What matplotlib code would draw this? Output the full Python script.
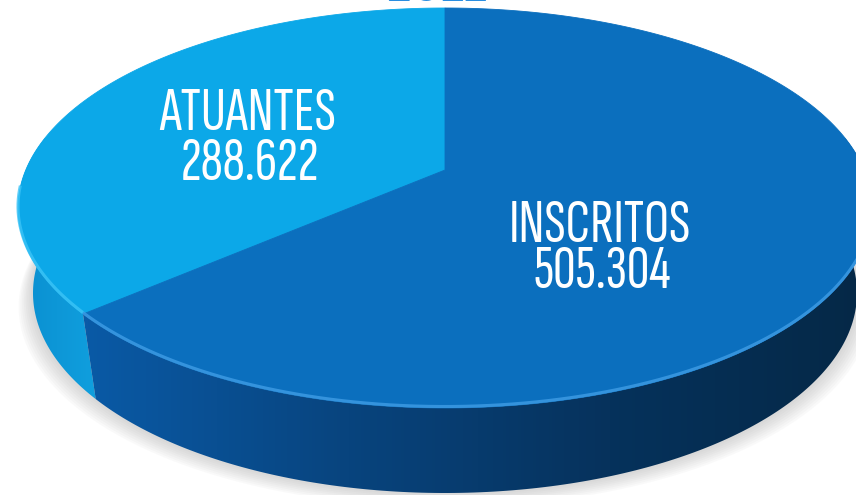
import numpy as np
import matplotlib
matplotlib.use("Agg")
import matplotlib.pyplot as plt
from matplotlib.patches import Polygon
from matplotlib.colors import LinearSegmentedColormap

# =========================
# Data
# =========================
labels = ["ATUANTES", "INSCRITOS"]
values = [288622, 505304]
value_text = ["288.622", "505.304"]
title = "2011"

# =========================
# Geometry / style
# =========================
W, H = 856, 495
CX, CY = 445.0, 208.0        # top ellipse centre (pixels)
RX, RY = 427.0, 200.0        # top ellipse radii
CY_BOT, RX_BOT = 293.0, 412.0  # bottom ellipse (side depth)
K = 0.19                     # perspective strength
START = 90.0                 # first slice starts at 12 o'clock

top_colors = ["#0ca8e8", "#0b6fbe"]
rim_colors = ["#3cc4f7", "#3f9de6"]
side_cmaps = [
    LinearSegmentedColormap.from_list("s0", ["#0a8fd0", "#109fde"]),
    LinearSegmentedColormap.from_list("s1", ["#0a5aa6", "#08447e", "#06325c", "#052846"]),
]
FONT = ["Sofia Sans Extra Condensed", "Fira Sans Extra Condensed", "DejaVu Sans"]
LABEL_SIZE = 45


def proj(theta, r=1.0, bottom=False):
    """Project polar point (deg, radius) of the pie disc onto screen pixels."""
    t = np.radians(theta)
    u, v = r * np.cos(t), r * np.sin(t)
    X = u / (1 + K * v)
    Y = v / (1 + K * v)
    y0 = -K / (1 - K * K)
    rx = RX_BOT if bottom else RX
    cy = CY_BOT if bottom else CY
    x = CX + rx * np.sqrt(1 - K * K) * X
    y = cy - RY * (1 - K * K) * (Y - y0)
    return x, y


def arc(a, b, bottom=False, n=200):
    th = np.linspace(a, b, n)
    x, y = proj(th, 1.0, bottom)
    return np.column_stack([x, y])


def visible_range(a, b, lo=170.0, hi=370.0):
    for off in (-360.0, 0.0, 360.0):
        s, e = max(a + off, lo), min(b + off, hi)
        if e > s:
            return s, e
    return None


fig = plt.figure(figsize=(W / 100, H / 100), dpi=100)
ax = fig.add_axes([0, 0, 1, 1])
ax.set_xlim(0, W)
ax.set_ylim(H, 0)
ax.axis("off")

fracs = np.array(values) / np.sum(values)
angles = START + np.concatenate([[0], np.cumsum(fracs) * 360.0])

# soft shadow under the disc
for off in np.linspace(14, 2, 8):
    sh = arc(0, 360, bottom=True)
    sh[:, 1] += off
    sh[:, 0] = CX + (sh[:, 0] - CX) * (1 + off / 400)
    ax.add_patch(Polygon(sh, closed=True, facecolor="#9a9a9a", edgecolor="none",
                         alpha=0.05, zorder=1))

# side walls
for i in range(len(values)):
    rng = visible_range(angles[i], angles[i + 1])
    if rng is None:
        continue
    top = arc(rng[0], rng[1])
    bot = arc(rng[0], rng[1], bottom=True)[::-1]
    poly = Polygon(np.vstack([top, bot]), closed=True, facecolor="none",
                   edgecolor="none", zorder=2)
    ax.add_patch(poly)
    grad = np.linspace(0, 1, 256).reshape(1, -1)
    x0 = min(top[:, 0].min(), bot[:, 0].min())
    x1 = max(top[:, 0].max(), bot[:, 0].max())
    im = ax.imshow(grad, cmap=side_cmaps[i], aspect="auto",
                   extent=[x0, x1, H, 0], zorder=2, interpolation="bicubic")
    im.set_clip_path(poly)

# top faces
apex = proj(0.0, 0.0)
for i in range(len(values)):
    pts = np.vstack([[apex], arc(angles[i], angles[i + 1])])
    ax.add_patch(Polygon(pts, closed=True, facecolor=top_colors[i],
                         edgecolor=top_colors[i], linewidth=0.6, zorder=3))
    rng = visible_range(angles[i], angles[i + 1], 185.0, 355.0)
    if rng is not None:
        rim = arc(rng[0], rng[1])
        ax.plot(rim[:, 0], rim[:, 1] - 1.5, color=rim_colors[i], lw=2.2,
                alpha=0.8, zorder=4, solid_capstyle="butt")

# labels (baseline positions in pixels)
label_pos = [(248, 130), (600, 242)]
value_gap = [50, 46]
for i, (x, y) in enumerate(label_pos):
    ax.text(x, y, labels[i], color="white", fontsize=LABEL_SIZE, family=FONT,
            ha="center", va="baseline", zorder=5)
    ax.text(x + 2, y + value_gap[i], value_text[i], color="white", fontsize=LABEL_SIZE,
            family=FONT, ha="center", va="baseline", zorder=5)

# year title, almost entirely above the visible area
ax.text(436, 0.9, title, color="#2a8ee0", fontsize=58, family=FONT,
        fontweight="bold", ha="center", va="baseline", zorder=5)

fig.savefig("out.png", dpi=100)
